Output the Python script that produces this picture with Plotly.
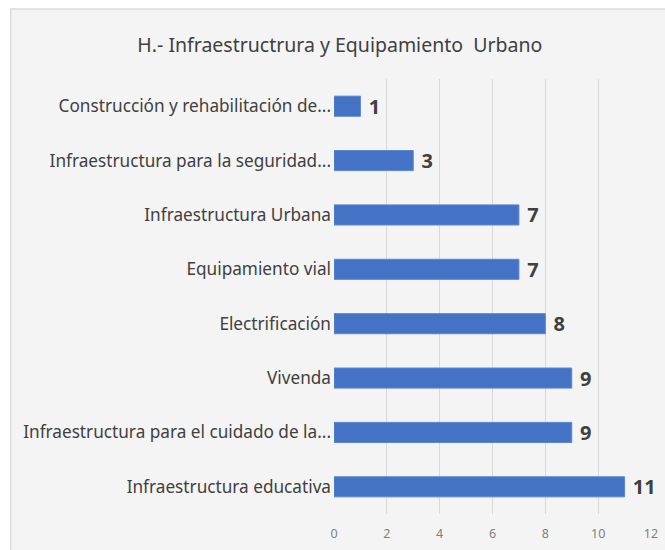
import plotly.graph_objects as go

# data (top to bottom as shown)
categories = [
    "Construcción y rehabilitación de...",
    "Infraestructura para la seguridad...",
    "Infraestructura Urbana",
    "Equipamiento vial",
    "Electrificación",
    "Vivenda",
    "Infraestructura para el cuidado de la...",
    "Infraestructura educativa",
]
values = [1, 3, 7, 7, 8, 9, 9, 11]
x_ticks = [0, 2, 4, 6, 8, 10, 12]

fig = go.Figure()
fig.add_trace(go.Bar(
    x=values,
    y=categories,
    orientation="h",
    marker=dict(color="#4472C4", line=dict(color="#5b86d4", width=1)),
    text=values,
    texttemplate=" %{x}",
    textposition="outside",
    constraintext="none",
    textfont=dict(family="Noto Sans", size=20, color="#404040", weight="bold"),
    cliponaxis=False,
))

# chart area background with faint border
fig.add_shape(type="rect", xref="paper", yref="paper",
              x0=-1.02, x1=1.1, y0=-0.3, y1=1.161,
              fillcolor="#f4f4f4", line=dict(color="#dcdcdc", width=1.5),
              layer="below")

fig.update_layout(
    width=665, height=550,
    margin=dict(l=334, r=14, t=79, b=36),
    paper_bgcolor="white",
    plot_bgcolor="#f4f4f4",
    bargap=0.63,
    showlegend=False,
    title=dict(text="H.- Infraestructrura y Equipamiento  Urbano",
               x=0.511, xref="container", xanchor="center",
               y=0.918, yref="container", yanchor="middle",
               font=dict(family="Noto Sans", size=19.5, color="#404040")),
    font=dict(family="Noto Sans", color="#404040"),
)
fig.update_xaxes(range=[0, 12], tickvals=x_ticks, showgrid=True,
                 gridcolor="#d9d9d9", gridwidth=1, zeroline=False,
                 tickfont=dict(size=12.5, color="#7f7f7f"), ticks="",
                 ticklabelstandoff=10, automargin=False)
fig.update_yaxes(autorange="reversed", showgrid=False,
                 tickfont=dict(size=17.2, color="#404040"), ticks="",
                 ticklabelstandoff=2)

fig.write_html("out.html", config={"displayModeBar": False},
               post_script="document.body.style.margin='0';")
